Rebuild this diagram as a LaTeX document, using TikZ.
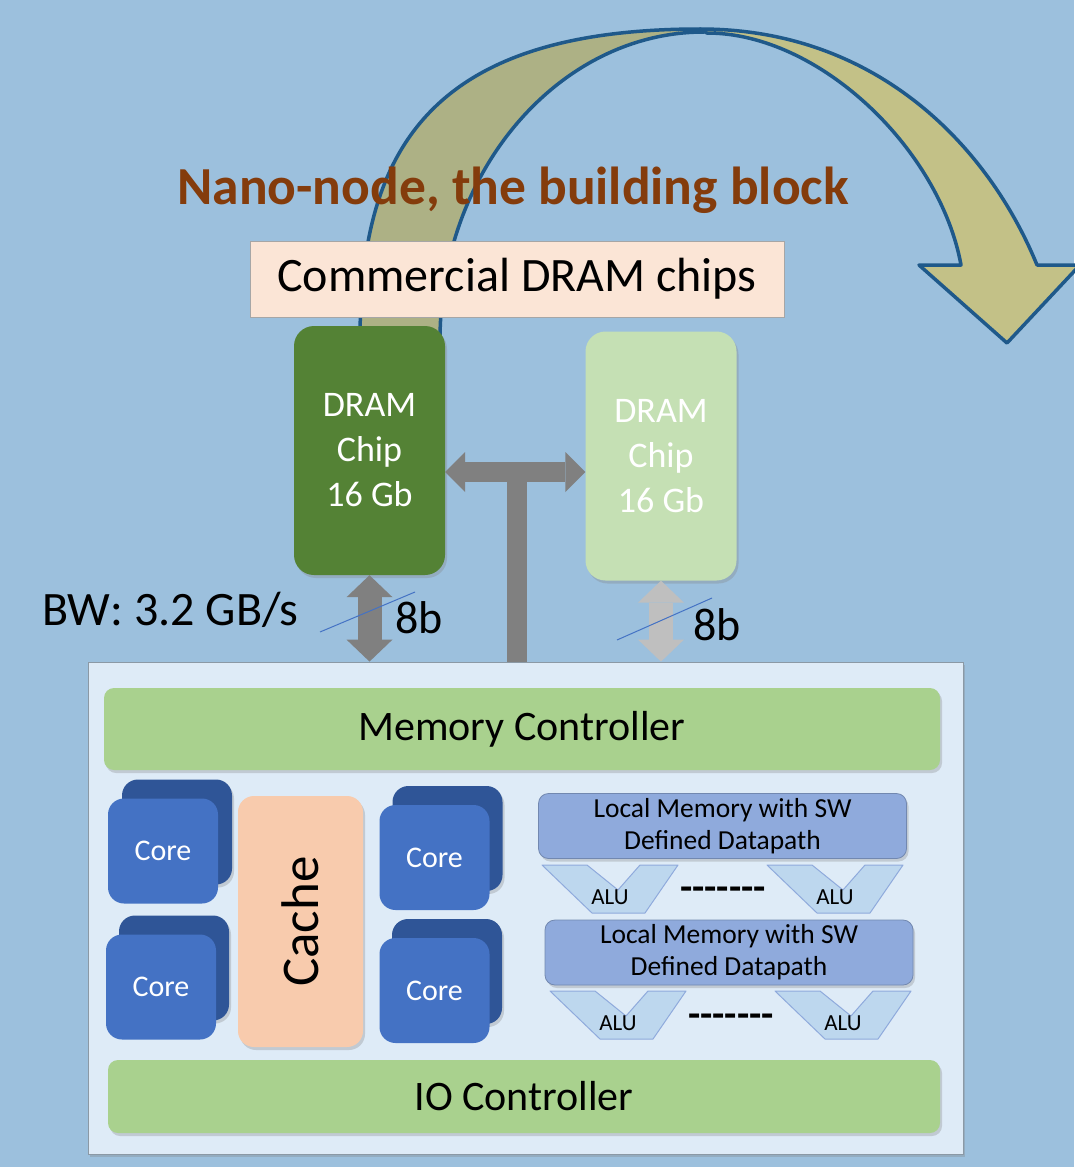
\documentclass[tikz,border=0pt]{standalone}
\usepackage{fontspec}
\setmainfont{Carlito}
\usepackage{tikz}
\usetikzlibrary{arrows.meta,shadows}
\definecolor{bg_blue}{RGB}{156,192,221}
\definecolor{arc_blue}{RGB}{31,89,138}
\definecolor{arc_back}{RGB}{173,177,133}
\definecolor{arc_front}{RGB}{195,193,135}
\definecolor{title_brown}{RGB}{132,60,12}
\definecolor{chips_peach}{RGB}{251,229,214}
\definecolor{dram_dark}{RGB}{84,130,53}
\definecolor{dram_light}{RGB}{197,224,180}
\definecolor{bus_gray}{RGB}{128,128,128}
\definecolor{bus_light}{RGB}{191,191,191}
\definecolor{node_fill}{RGB}{222,235,247}
\definecolor{ctrl_green}{RGB}{169,209,142}
\definecolor{core_blue}{RGB}{68,114,196}
\definecolor{core_back}{RGB}{47,85,151}
\definecolor{cache_peach}{RGB}{248,203,173}
\definecolor{lm_blue}{RGB}{143,170,220}
\definecolor{alu_blue}{RGB}{189,215,238}

\tikzset{
  shade box/.style={drop shadow={shadow xshift=2pt,shadow yshift=-3pt,opacity=0.3}},
  chip/.style={rounded corners=20pt,inner sep=0pt,minimum width=151pt,minimum height=249pt,
    align=center,text=white,font=\fontsize{36}{45}\selectfont,shade box},
  ctrl/.style={fill=ctrl_green,rounded corners=10pt,inner sep=0pt,
    font=\fontsize{42}{50}\selectfont,shade box},
  core/.style={fill=core_blue,rounded corners=16pt,inner sep=0pt,minimum width=110pt,
    minimum height=105pt,text=white,font=\fontsize{30}{36}\selectfont},
  coreback/.style={fill=core_back,rounded corners=16pt,inner sep=0pt,minimum width=110pt,
    minimum height=105pt,shade box},
  localmem/.style={fill=lm_blue,draw=lm_blue!80!black,line width=0.8pt,rounded corners=10pt,
    inner sep=0pt,minimum width=368pt,minimum height=65pt,align=center,
    font=\fontsize{27.5}{32}\selectfont,shade box},
  alu/.style={fill=alu_blue,draw=lm_blue,line width=1pt,line join=round},
  bus/.style={draw=bus_gray,line width=20pt,
    {Triangle[length=20pt,width=40pt,line width=0pt]}-{Triangle[length=20pt,width=40pt,line width=0pt]}},
  vbus/.style={line width=24pt,
    {Triangle[length=22pt,width=46pt,line width=0pt]}-{Triangle[length=22pt,width=46pt,line width=0pt]}},
  label/.style={font=\fontsize{46}{54}\selectfont},
  dashrow/.style={font=\bfseries\fontsize{40}{40}\selectfont,inner sep=0pt,anchor=base}
}

\begin{document}
\begin{tikzpicture}[x=1pt,y=-1pt]
 \fill[bg_blue] (0,0) rectangle (1074,1167);
 \useasboundingbox (0,0) rectangle (1074,1167);

 % curved arrow behind everything
 \filldraw[fill=arc_back,draw=arc_blue,line width=3.5pt,line join=round]
   (360,340) .. controls (360,150) and (430,29) .. (700,29) -- (704,32)
   .. controls (560,32) and (440,170) .. (440,340) -- cycle;
 \filldraw[fill=arc_front,draw=arc_blue,line width=3.5pt,line join=round]
   (700,29) .. controls (880,29) and (990,150) .. (1037,265) -- (1080,265) -- (1007,343)
   -- (919,265) -- (961,265) .. controls (940,150) and (820,33) .. (707,33) -- cycle;

 \node[anchor=base,text=title_brown,font=\bfseries\fontsize{53.5}{62}\selectfont] (title) at (513,204)
   {Nano-node, the building block};

 \node[fill=chips_peach,draw=gray!70,line width=0.8pt,inner sep=0pt,minimum width=534pt,
   minimum height=76pt,font=\fontsize{48}{56}\selectfont] (chips) at (517,279) {Commercial DRAM chips\hspace{10pt}};

 % DRAM chips
 \node[chip,fill=dram_dark] (dramA) at (369.5,450.5) {DRAM\\Chip\\16 Gb};
 \node[chip,fill=dram_light] (dramB) at (661,456) {DRAM\\Chip\\16 Gb};

 % nano-node box
 \node[fill=node_fill,draw=gray!60!bg_blue,line width=0.8pt,inner sep=0pt,minimum width=875pt,
   minimum height=492pt,shade box] (nano) at (525.5,908) {};

 \coordinate (bus) at (517,472);
 \draw[bus] (dramA.east |- bus) -- (dramB.west |- bus);
 \draw[bus_gray,line width=20pt] (bus) -- (bus |- nano.north);
 \draw[vbus,draw=bus_gray] (dramA.south) -- (dramA.south |- nano.north);
 \draw[vbus,draw=bus_light] (dramB.south) -- (dramB.south |- nano.north);

 \coordinate (WA1) at (320,632);
 \coordinate (WA2) at (415,592);
 \coordinate (WB1) at (617,640);
 \coordinate (WB2) at (712,598);
 \draw[core_blue,line width=1pt] (WA1) -- (WA2);
 \draw[core_blue,line width=1pt] (WB1) -- (WB2);
 \node[label,anchor=base west,inner sep=0pt] (bwA) at (395,633) {8b};
 \node[label,anchor=base west,inner sep=0pt] (bwB) at (693,640) {8b};
 \node[label,anchor=base west,inner sep=0pt,font=\fontsize{48}{56}\selectfont] (bw) at (42,625) {BW: 3.2 GB/s};

 % inside the nano-node
 \node[ctrl,minimum width=836pt,minimum height=82pt] (memctrl) at (522,729) {Memory Controller};
 \node[ctrl,minimum width=832pt,minimum height=73pt] (ioctrl) at (524,1096.5) {IO Controller};

 \node[coreback] (core1b) at (177,832) {};
 \node[core] (core1) at (163,851) {Core};
 \node[coreback] (core2b) at (174,968) {};
 \node[core] (core2) at (161,987) {Core};
 \node[coreback] (core3b) at (447.5,838.5) {};
 \node[core] (core3) at (434.5,857.5) {Core};
 \node[coreback] (core4b) at (447,971.5) {};
 \node[core] (core4) at (434.5,990.5) {Core};

 \node[fill=cache_peach,rounded corners=16pt,inner sep=0pt,minimum width=125pt,minimum height=251pt,
   shade box] (cache) at (300.5,921.5) {};
 \node[rotate=90,font=\fontsize{53}{60}\selectfont] (cachetext) at (cache.center) {Cache};

 \node[localmem] (lm1) at (722.5,826) {Local Memory with SW\\Defined Datapath};
 \node[localmem] (lm2) at (729,952.5) {Local Memory with SW\\Defined Datapath};

 \foreach \ax/\ay [count=\i] in {542/865,767/865,550/991,775/991}{
   \draw[alu] (\ax,\ay) -- ++(45,0) -- ++(31,25) -- ++(22,-25) -- ++(38,0) -- ++(-33,48)
     -- ++(-53,0) -- cycle;
   \node[font=\fontsize{23}{26}\selectfont,inner sep=0pt] (alu\i) at (\ax+68,\ay+32) {ALU};
 }
 \node[dashrow] (dots1) at (723,900) {-{}-{}-{}-{}-{}-{}-};
 \node[dashrow] (dots2) at (731,1027) {-{}-{}-{}-{}-{}-{}-};
\end{tikzpicture}
\end{document}
